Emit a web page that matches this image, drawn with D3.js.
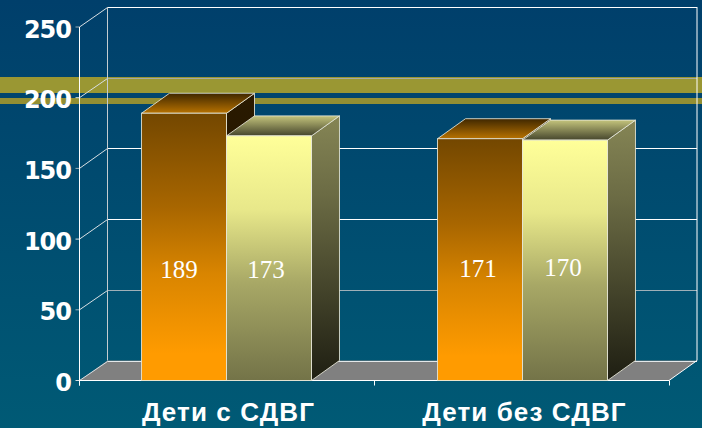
<!DOCTYPE html>
<html><head><meta charset="utf-8">
<script src="https://cdn.jsdelivr.net/npm/d3@7"></script>
<style>html,body{margin:0;padding:0;background:#004a70}svg{display:block}</style>
</head><body><div id="c"></div>
<script>
const categories = ["Дети с СДВГ", "Дети без СДВГ"];
const seriesNames = ["a", "b"];
const seriesA = [189, 171];
const seriesB = [173, 170];
const yTicks = [0, 50, 100, 150, 200, 250];
const W = 702, H = 428;
const dx = 28, dy = -20;
const y = d3.scaleLinear().domain([0, 250]).range([380.5, 27]);
const x0 = d3.scaleBand().domain(categories).range([79.5, 669.5]).paddingInner(0.4257).paddingOuter(0.2095);
const x1 = d3.scaleBand().domain(seriesNames).range([0, x0.bandwidth()]);
const svg = d3.select("#c").append("svg").attr("width", W).attr("height", H);
const defs = svg.append("defs");
function grad(id, stops) {
  const g = defs.append("linearGradient").attr("id", id).attr("x1", 0).attr("x2", 0).attr("y1", 0).attr("y2", 1);
  stops.forEach(([o, c]) => g.append("stop").attr("offset", o).attr("stop-color", c));
}
grad("bg", [[0, "#003f6b"], [1, "#005a75"]]);
grad("frontA", [[0, "#734700"], [0.35, "#a86600"], [0.6, "#d98500"], [0.9, "#ff9b00"], [1, "#ff9b00"]]);
grad("frontB", [[0, "#ffff99"], [0.3, "#e8e88a"], [0.6, "#a8a866"], [1, "#737348"]]);
grad("topA", [[0, "#3f2700"], [1, "#b87200"]]);
grad("topB", [[0, "#c4c47c"], [1, "#45452c"]]);
grad("sideA", [[0, "#2a1a00"], [1, "#1a1000"]]);
grad("sideB", [[0, "#858555"], [0.3, "#6b6b44"], [1, "#1e1e12"]]);

svg.append("rect").attr("width", W).attr("height", H).attr("fill", "url(#bg)");

const x0r = [79.5, 669];
const line = "#ffffff";
// olive bands
svg.append("rect").attr("x", 0).attr("y", 77).attr("width", W).attr("height", 16).attr("fill", "#9a9733");
svg.append("rect").attr("x", 0).attr("y", 98).attr("width", W).attr("height", 6).attr("fill", "#938f33");
// floor
svg.append("path").attr("fill", "#808080")
  .attr("d", `M${x0r[0]},${y(0)}L${x0r[0] + dx},${y(0) + dy}H${x0r[1] + dx}L${x0r[1]},${y(0)}Z`);
// back wall gridlines
const gridColor = { 0: "#e4e8ea", 50: "#9fb0b8", 100: "#ffffff", 150: "#ffffff", 200: "#a8aca0", 250: "#ffffff" };
yTicks.forEach(t => {
  const yy = Math.round(y(t) + dy) + .5;
  svg.append("line").attr("x1", x0r[0] + dx).attr("x2", x0r[1] + dx).attr("y1", yy).attr("y2", yy).attr("stroke", gridColor[t]);
  svg.append("line").attr("x1", x0r[0]).attr("x2", x0r[0] + dx).attr("y1", y(t)).attr("y2", yy).attr("stroke", "#d8dfe3");
  svg.append("line").attr("x1", x0r[0] - 4).attr("x2", x0r[0]).attr("y1", y(t)).attr("y2", y(t)).attr("stroke", t % 100 === 50 ? "#9fb0b8" : "#d8dfe3");
});
svg.append("line").attr("x1", x0r[0]).attr("x2", x0r[0]).attr("y1", y(250)).attr("y2", y(0) + 5).attr("stroke", line);
svg.append("line").attr("x1", x0r[0] + dx).attr("x2", x0r[0] + dx).attr("y1", y(250) + dy).attr("y2", y(0) + dy).attr("stroke", "#c4ccd0");
svg.append("line").attr("x1", x0r[1] + dx).attr("x2", x0r[1] + dx).attr("y1", y(250) + dy).attr("y2", y(0) + dy).attr("stroke", line);
svg.append("line").attr("x1", x0r[1]).attr("x2", x0r[1] + dx).attr("y1", y(0)).attr("y2", y(0) + dy).attr("stroke", line);
svg.append("line").attr("x1", x0r[0]).attr("x2", x0r[1]).attr("y1", y(0)).attr("y2", y(0)).attr("stroke", line);
[0, 1, 2].forEach(i => {
  const xx = Math.round(x0r[0] + i * (x0r[1] - x0r[0]) / 2 - .5) + .5;
  svg.append("line").attr("x1", xx).attr("x2", xx).attr("y1", y(0)).attr("y2", y(0) + 5).attr("stroke", line);
});

// bars
function bar(px, w, v, s) {
  const top = y(v), bot = y(0), g = svg.append("g").attr("stroke", "#e8e8d8").attr("stroke-width", 1).attr("stroke-opacity", .85);
  g.append("path").attr("fill", `url(#side${s})`).attr("d", `M${px + w},${top}l${dx},${dy}V${bot + dy}L${px + w},${bot}Z`);
  g.append("path").attr("fill", `url(#top${s})`).attr("d", `M${px},${top}l${dx},${dy}H${px + w + dx}L${px + w},${top}Z`);
  g.append("rect").attr("x", px).attr("y", top).attr("width", w).attr("height", bot - top).attr("fill", `url(#front${s})`);
}
const labelShift = [[-5, -3], [-2, -2]];
const labelBase = [[278, 278], [277, 276]];
categories.forEach((c, i) => {
  bar(x0(c) + x1("a"), x1.bandwidth(), seriesA[i], "A");
  bar(x0(c) + x1("b"), x1.bandwidth(), seriesB[i], "B");
  [["a", seriesA[i]], ["b", seriesB[i]]].forEach(([k, v], j) => {
    svg.append("text").attr("x", x0(c) + x1(k) + x1.bandwidth() / 2 + labelShift[i][j]).attr("y", labelBase[i][j])
      .attr("text-anchor", "middle").attr("fill", "#fff").attr("font-family", "Liberation Serif").attr("font-size", 25).text(v);
  });
  svg.append("text").attr("x", x0(c) + x0.bandwidth() / 2 + 2).attr("y", 421)
    .attr("text-anchor", "middle").attr("fill", "#fff").attr("font-family", "Liberation Sans").attr("font-weight", "bold").attr("font-size", 26).attr("letter-spacing", 1.1).text(c);
});
yTicks.forEach(t => {
  svg.append("text").attr("x", 71).attr("y", y(t) + 10.5).attr("text-anchor", "end").attr("fill", "#fff")
    .attr("font-family", "DejaVu Sans").attr("font-weight", "bold").attr("font-size", 24).attr("letter-spacing", -1).text(t);
});
</script></body></html>
